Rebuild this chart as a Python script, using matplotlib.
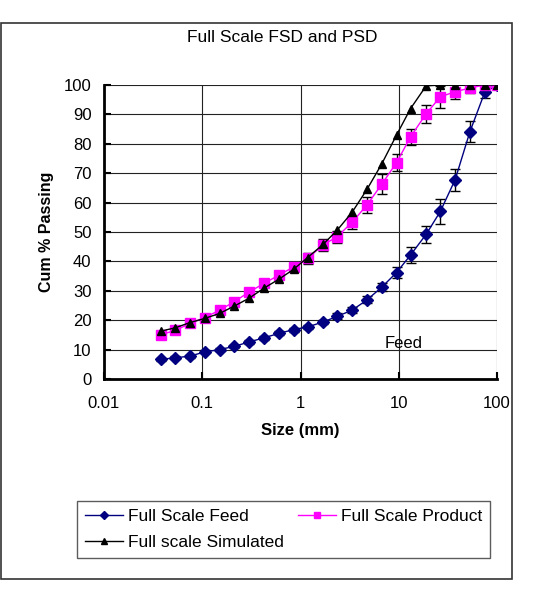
import matplotlib
matplotlib.use("Agg")
import matplotlib.pyplot as plt
from matplotlib.lines import Line2D
from matplotlib.patches import Rectangle

plt.rcParams['font.family'] = ['Liberation Sans', 'DejaVu Sans']

# ---- data ----
sizes = [0.038, 0.053, 0.075, 0.106, 0.15, 0.212, 0.3, 0.425, 0.6, 0.85,
         1.18, 1.7, 2.36, 3.35, 4.75, 6.7, 9.5, 13.2, 19, 26.5, 37.5, 53, 75, 100]
feed = [6.7, 7.2, 7.8, 9.2, 10.0, 11.1, 12.6, 14.0, 15.5, 16.8,
        17.7, 19.4, 21.3, 23.4, 26.9, 31.2, 36.2, 42.2, 49.2, 57.0, 67.8, 84.1, 97.5, 100]
feed_err = [0.5, 0.5, 0.5, 0.5, 0.5, 0.5, 0.6, 0.6, 0.7, 0.7,
            0.8, 0.8, 1.0, 1.0, 1.2, 1.3, 1.8, 2.7, 2.9, 4.2, 3.7, 3.5, 2.0, 0.5]
product = [15.1, 16.5, 18.9, 20.9, 23.4, 26.3, 29.6, 32.5, 35.3, 38.1,
           41.0, 45.6, 48.4, 53.3, 59.2, 66.2, 73.6, 82.4, 90.2, 96.0, 97.7, 99.0, 100, 100]
product_err = [0.8, 0.8, 0.8, 0.8, 0.9, 0.9, 1.0, 1.0, 1.0, 1.0,
               2.0, 2.0, 2.0, 2.3, 2.7, 3.4, 3.0, 2.8, 3.0, 3.7, 2.5, 1.7, 0.5, 0.5]
simulated = [16.3, 17.4, 19.2, 20.6, 22.3, 24.8, 27.5, 30.9, 33.9, 37.3,
             41.3, 45.8, 50.6, 56.7, 64.5, 73.1, 83.0, 92.0, 99.7, 100, 100, 100, 100, 100]

title = "Full Scale FSD and PSD"
xlabel = "Size (mm)"
ylabel = "Cum % Passing"
labels = ["Full Scale Feed", "Full Scale Product", "Full scale Simulated"]
xticks = [0.01, 0.1, 1, 10, 100]
xticklabels = ["0.01", "0.1", "1", "10", "100"]
yticks = list(range(0, 101, 10))

W, H = 536, 590
fig = plt.figure(figsize=(W / 100, H / 100), dpi=100)
fig.patch.set_facecolor('white')

# outer chart border
fig.add_artist(Rectangle((0.5 / W, 1 - 579 / H), 511 / W, 556 / H,
                         transform=fig.transFigure, fill=False,
                         edgecolor='#333333', linewidth=1.2))

ax = fig.add_axes([104 / W, 1 - 379 / H, (497 - 104) / W, (379 - 85) / H])
ax.set_xscale('log')
ax.set_xlim(0.01, 100)
ax.set_ylim(0, 100)

navy = '#000080'
mag = '#FF00FF'

ax.errorbar(sizes, feed, yerr=feed_err, fmt='none', ecolor='black',
            elinewidth=1, capsize=3.5, capthick=1, zorder=3)
ax.errorbar(sizes, product, yerr=product_err, fmt='none', ecolor='black',
            elinewidth=1, capsize=3.5, capthick=1, zorder=3)

ax.plot(sizes, feed, color=navy, lw=1, marker='D', ms=6.5,
        mfc=navy, mec=navy, zorder=4)
ax.plot(sizes, product, color=mag, lw=1, marker='s', ms=6.5,
        mfc=mag, mec=mag, zorder=4)
ax.plot(sizes, simulated, color='black', lw=1, marker='^', ms=5.5,
        mfc='black', mec='black', zorder=5)

ax.text(7.2, 12.2, "Feed", fontsize=12, va='center', ha='left', zorder=6)

ax.set_xticks(xticks)
ax.set_xticklabels(xticklabels)
ax.xaxis.set_minor_locator(matplotlib.ticker.NullLocator())
ax.set_yticks(yticks)
ax.tick_params(axis='both', direction='in', length=5, width=1.5, labelsize=12)
ax.tick_params(axis='x', pad=12)
ax.tick_params(axis='y', pad=9)

ax.grid(True, which='major', color='#222222', linewidth=0.8)
ax.set_axisbelow(True)
for s in ['top', 'right']:
    ax.spines[s].set_visible(False)
for s in ['left', 'bottom']:
    ax.spines[s].set_linewidth(2)
    ax.spines[s].set_color('black')
    ax.spines[s].set_zorder(7)

ax.set_xlabel(xlabel, fontsize=12, fontweight='bold', labelpad=9)
ax.set_ylabel(ylabel, fontsize=11.5, fontweight='bold', labelpad=7)

fig.text(282 / W, 1 - 38 / H, title, fontsize=12.5, ha='center', va='center')

h_feed = Line2D([], [], color=navy, lw=1, marker='D', ms=4, mfc=navy, mec=navy)
h_prod = Line2D([], [], color=mag, lw=1, marker='s', ms=4, mfc=mag, mec=mag)
h_sim = Line2D([], [], color='black', lw=1, marker='^', ms=4, mfc='black', mec='black')
leg = fig.legend([h_feed, h_sim, h_prod], [labels[0], labels[2], labels[1]],
                 ncol=2, loc='upper left', bbox_to_anchor=(77 / W, 1 - 501 / H),
                 bbox_transform=fig.transFigure, borderaxespad=0,
                 fontsize=12.5, frameon=True, fancybox=False, handlelength=2.2,
                 handletextpad=0.3, columnspacing=0.8, labelspacing=0.65,
                 borderpad=0.45)
leg.get_frame().set_edgecolor('#333333')
leg.get_frame().set_linewidth(1)

fig.savefig('out.png', dpi=100)
